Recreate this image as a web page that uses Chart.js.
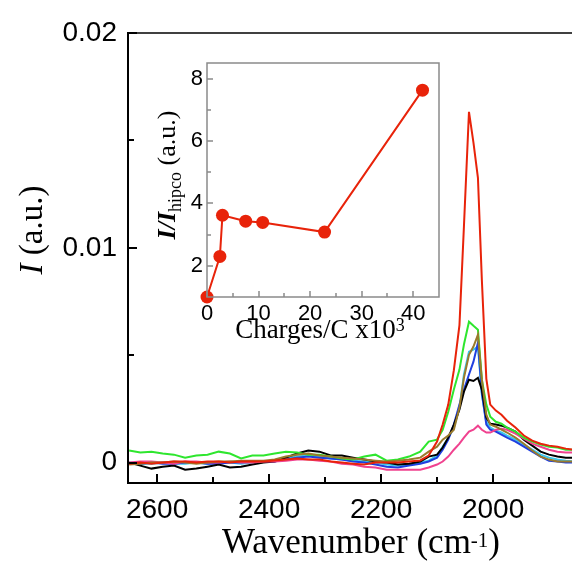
<!DOCTYPE html>
<html>
<head>
<meta charset="utf-8">
<script src="https://cdn.jsdelivr.net/npm/chart.js@4.4.1/dist/chart.umd.min.js"></script>
<style>
  html, body { margin: 0; padding: 0; background: #fff; }
  #wrap { position: relative; width: 572px; height: 565px; overflow: hidden; }
  #mainChart { position: absolute; left: 0; top: 0; }
  #insetChart { position: absolute; left: 140px; top: 45px; }
</style>
</head>
<body>
<div id="wrap">
  <canvas id="mainChart" width="572" height="565"></canvas>
  <canvas id="insetChart" width="310" height="310"></canvas>
</div>
<script>
// wavenumber grid (cm-1) shared by every spectrum
var wavenumbers = [2650, 2630, 2610, 2590, 2570, 2550, 2530, 2510, 2490, 2470, 2450, 2430, 2410, 2390,
  2370, 2350, 2330, 2310, 2290, 2270, 2250, 2230, 2210, 2190, 2170, 2150, 2130,
  2115, 2100, 2090, 2080, 2070, 2060, 2052, 2043, 2035, 2027, 2020, 2012, 2005, 1995, 1985, 1975,
  1960, 1945, 1930, 1915, 1900, 1885, 1870, 1855];

// intensities, in units of 1e-3 (a.u.)
var redSpec = [-0.05, 0, -0.05, 0, 0.05, 0.05, 0, 0.05, 0.05, 0, 0.05, 0.05, 0.05, 0.1, 0.14, 0.19, 0.14, 0.14, 0.05, 0, -0.05, -0.09, 0, 0, 0, 0.05, 0.1,
  0.33, 0.98, 1.77, 2.7, 4.3, 6.4, 11.0, 16.33, 14.9, 13.26, 8.5, 3.9, 2.7, 2.42, 2.23, 1.95, 1.63, 1.26, 1.02, 0.88, 0.79, 0.74, 0.65, 0.6];
var greenSpec = [0.56, 0.47, 0.51, 0.42, 0.37, 0.23, 0.33, 0.37, 0.51, 0.42, 0.19, 0.33, 0.33, 0.42, 0.51, 0.47, 0.37, 0.37, 0.28, 0.19, 0.14, 0.28, 0.37, 0.09, 0.14, 0.28, 0.51,
  0.98, 1.07, 1.53, 2.37, 3.4, 4.33, 5.5, 6.56, 6.37, 6.19, 3.86, 2.7, 2.14, 1.9, 1.81, 1.63, 1.44, 1.16, 0.98, 0.84, 0.74, 0.7, 0.6, 0.6];
var blackSpec = [0, -0.14, -0.28, -0.19, -0.14, -0.33, -0.28, -0.19, -0.09, -0.23, -0.19, -0.09, 0, 0.05, 0.23, 0.42, 0.56, 0.51, 0.33, 0.33, 0.23, 0.14, 0.05, 0, -0.09, -0.05, 0.05,
  0.28, 0.37, 0.7, 1.16, 1.77, 2.47, 3.3, 3.86, 3.8, 3.95, 3.4, 2.09, 1.81, 1.77, 1.72, 1.63, 1.44, 1.07, 0.79, 0.51, 0.37, 0.28, 0.23, 0.23];
var blueSpec = [-0.05, -0.05, 0, -0.05, -0.05, 0, 0, -0.05, -0.05, 0, 0, 0.05, 0.05, 0.05, 0.14, 0.23, 0.28, 0.23, 0.19, 0.14, 0.05, 0, -0.09, -0.19, -0.23, -0.14, -0.05,
  0.05, 0.23, 0.6, 1.07, 1.77, 2.7, 3.4, 4.1, 4.7, 5.58, 3.26, 1.77, 1.53, 1.44, 1.3, 1.16, 0.98, 0.74, 0.51, 0.28, 0.09, 0.05, 0, 0];
var cyanSpec = [0, -0.05, -0.05, 0, -0.05, -0.05, 0, -0.05, 0, 0, -0.05, 0, 0.05, 0.09, 0.19, 0.28, 0.33, 0.28, 0.19, 0.14, 0.09, 0.05, 0, -0.09, -0.14, -0.09, 0,
  0.09, 0.33, 0.74, 1.16, 1.63, 2.56, 4.1, 5.16, 5.26, 5.4, 3.16, 1.9, 1.63, 1.49, 1.4, 1.26, 1.07, 0.84, 0.6, 0.37, 0.23, 0.14, 0.09, 0.05];
var brownSpec = [-0.09, -0.05, 0, 0, 0.05, 0, -0.05, 0, 0.05, 0.05, 0.09, 0.09, 0.09, 0.14, 0.28, 0.37, 0.42, 0.33, 0.28, 0.23, 0.19, 0.14, 0.09, 0.05, 0.09, 0.14, 0.23,
  0.51, 0.74, 1.07, 1.26, 1.53, 2.56, 3.95, 5.02, 5.4, 5.95, 3.86, 2.23, 1.77, 1.67, 1.53, 1.4, 1.16, 0.88, 0.56, 0.28, 0.14, 0.05, 0.05, 0.05];
var pinkSpec = [0, 0.05, 0.05, 0, -0.05, 0.05, 0.05, 0, 0, 0.05, 0, 0, 0.05, 0.05, 0.09, 0.14, 0.14, 0.09, 0.05, -0.05, -0.09, -0.19, -0.23, -0.33, -0.33, -0.33, -0.33,
  -0.23, -0.09, 0.05, 0.28, 0.6, 0.88, 1.16, 1.44, 1.53, 1.72, 1.53, 1.4, 1.4, 1.53, 1.58, 1.53, 1.35, 1.12, 0.88, 0.74, 0.6, 0.51, 0.47, 0.47];

var xTicks = [2600, 2400, 2200, 2000];
var xTickLabels = ['2600', '2400', '2200', '2000'];
var xMinorTicks = [2500, 2300, 2100, 1900];
var yTicks = [0, 10, 20];
var yTickLabels = ['0', '0.01', '0.02'];
var yMinorTicks = [5, 15];

// inset: relative intensity vs charge
var charges = [0, 2.5, 3, 7.5, 10.8, 22.8, 41.8];
var ratio = [1.0, 2.3, 3.62, 3.43, 3.39, 3.08, 7.63];
var insetXTicks = [0, 10, 20, 30, 40];
var insetXMinor = [5, 15, 25, 35];
var insetYTicks = [2, 4, 6, 8];
var insetYMinor = [3, 5, 7];

// drawn top first (Chart.js paints dataset 0 last)
var spectra = [
  {data: redSpec, color: '#e8230a'},
  {data: brownSpec, color: '#9a7a2c'},
  {data: greenSpec, color: '#2ee62e'},
  {data: pinkSpec, color: '#f0428f'},
  {data: blackSpec, color: '#000000'},
  {data: blueSpec, color: '#1f3fe0'},
  {data: cyanSpec, color: '#38c8ee'}
];

// text made of several runs (italic, sub/superscript)
function richText(ctx, parts, cx, cy, rot) {
  ctx.save();
  ctx.translate(cx, cy);
  ctx.rotate(rot);
  ctx.textBaseline = 'alphabetic';
  ctx.textAlign = 'left';
  ctx.fillStyle = '#000';
  var total = 0;
  parts.forEach(function(p) { ctx.font = p.font; p.w = ctx.measureText(p.text).width; total += p.w; });
  var x = -total / 2;
  parts.forEach(function(p) { ctx.font = p.font; ctx.fillText(p.text, x, p.dy || 0); x += p.w; });
  ctx.restore();
}

function inwardTicks(chart, t) {
  var ctx = chart.ctx, a = chart.chartArea;
  var xs = chart.scales.x, ys = chart.scales.y;
  ctx.save();
  ctx.strokeStyle = t.color;
  ctx.lineWidth = t.width;
  ctx.beginPath();
  t.xMajor.forEach(function(v) { var p = Math.round(xs.getPixelForValue(v)); ctx.moveTo(p, a.bottom); ctx.lineTo(p, a.bottom - t.major); });
  t.xMinor.forEach(function(v) { var p = Math.round(xs.getPixelForValue(v)); ctx.moveTo(p, a.bottom); ctx.lineTo(p, a.bottom - t.minor); });
  t.yMajor.forEach(function(v) { var p = Math.round(ys.getPixelForValue(v)); ctx.moveTo(a.left, p); ctx.lineTo(a.left + t.major, p); });
  t.yMinor.forEach(function(v) { var p = Math.round(ys.getPixelForValue(v)); ctx.moveTo(a.left, p); ctx.lineTo(a.left + t.minor, p); });
  ctx.stroke();
  ctx.restore();
}

var mainDecor = {
  id: 'mainDecor',
  afterDraw: function(chart) {
    var ctx = chart.ctx, a = chart.chartArea;
    ctx.save();
    ctx.strokeStyle = '#000';
    ctx.lineWidth = 1.5;
    ctx.beginPath();
    ctx.moveTo(a.left, a.top);
    ctx.lineTo(a.right, a.top);
    ctx.stroke();
    ctx.restore();
    inwardTicks(chart, {color: '#000', width: 2, major: 9, minor: 6,
      xMajor: xTicks, xMinor: xMinorTicks, yMajor: yTicks, yMinor: yMinorTicks});
    richText(ctx, [
      {text: 'I', font: 'italic 33px "Liberation Serif"'},
      {text: ' (a.u.)', font: '33px "Liberation Serif"'}
    ], 42, 230, -Math.PI / 2);
    richText(ctx, [
      {text: 'Wavenumber (cm', font: '35px "Liberation Serif"'},
      {text: '-1', font: '21px "Liberation Serif"', dy: -6},
      {text: ')', font: '35px "Liberation Serif"'}
    ], 361, 553, 0);
  }
};

var insetDecor = {
  id: 'insetDecor',
  afterDraw: function(chart) {
    var ctx = chart.ctx, a = chart.chartArea;
    ctx.save();
    ctx.strokeStyle = '#8a8a8a';
    ctx.lineWidth = 1.5;
    ctx.strokeRect(a.left, a.top, a.right - a.left, a.bottom - a.top);
    ctx.restore();
    inwardTicks(chart, {color: '#8a8a8a', width: 1.5, major: 6, minor: 4,
      xMajor: insetXTicks, xMinor: insetXMinor, yMajor: insetYTicks, yMinor: insetYMinor});
    richText(ctx, [
      {text: 'I/I', font: 'bold italic 26px "Liberation Serif"'},
      {text: 'hipco', font: '18px "Liberation Serif"', dy: 6},
      {text: ' (a.u.)', font: '26px "Liberation Serif"'}
    ], 35, 130, -Math.PI / 2);
    richText(ctx, [
      {text: 'Charges/C x10', font: '27px "Liberation Serif"'},
      {text: '3', font: '18px "Liberation Serif"', dy: -7}
    ], 180, 293, 0);
  }
};

var mainData = {
  datasets: spectra.map(function(s) {
    return {
      data: wavenumbers.map(function(w, i) { return {x: w, y: s.data[i]}; }),
      borderColor: s.color,
      borderWidth: 2,
      pointRadius: 0,
      tension: 0,
      fill: false
    };
  })
};

new Chart(document.getElementById('mainChart'), {
  type: 'line',
  data: mainData,
  options: {
    responsive: false,
    animation: false,
    devicePixelRatio: 1,
    layout: {padding: {top: 33, right: 0, left: 0, bottom: 0}},
    plugins: {legend: {display: false}, tooltip: {enabled: false}},
    scales: {
      x: {
        type: 'linear',
        reverse: true,
        min: 1859,
        max: 2652,
        afterBuildTicks: function(s) { s.ticks = xTicks.map(function(v) { return {value: v}; }); },
        afterFit: function(s) { s.height = 82; },
        grid: {display: false, drawTicks: false},
        border: {display: true, color: '#000', width: 2},
        ticks: {
          color: '#000',
          padding: 10,
          maxRotation: 0,
          autoSkip: false,
          font: {family: 'Liberation Sans', size: 28},
          callback: function(v) { return xTickLabels[xTicks.indexOf(v)]; }
        }
      },
      y: {
        type: 'linear',
        min: -0.95,
        max: 20,
        afterBuildTicks: function(s) { s.ticks = yTicks.map(function(v) { return {value: v}; }); },
        afterFit: function(s) { s.width = 128; },
        grid: {display: false, drawTicks: false},
        border: {display: true, color: '#000', width: 2},
        ticks: {
          color: '#000',
          padding: 11,
          font: {family: 'Liberation Sans', size: 28},
          callback: function(v) { return yTickLabels[yTicks.indexOf(v)]; }
        }
      }
    }
  },
  plugins: [mainDecor]
});

new Chart(document.getElementById('insetChart'), {
  type: 'line',
  data: {
    datasets: [{
      data: charges.map(function(c, i) { return {x: c, y: ratio[i]}; }),
      borderColor: '#e8230a',
      backgroundColor: '#e8230a',
      borderWidth: 2,
      pointRadius: 6.5,
      pointBorderWidth: 0,
      tension: 0,
      clip: false
    }]
  },
  options: {
    responsive: false,
    animation: false,
    devicePixelRatio: 1,
    layout: {padding: {top: 18, right: 11, left: 0, bottom: 0}},
    plugins: {legend: {display: false}, tooltip: {enabled: false}},
    scales: {
      x: {
        type: 'linear',
        min: 0,
        max: 45,
        afterBuildTicks: function(s) { s.ticks = insetXTicks.map(function(v) { return {value: v}; }); },
        afterFit: function(s) { s.height = 58; },
        grid: {display: false, drawTicks: false},
        border: {display: false},
        ticks: {color: '#000', padding: 4, maxRotation: 0, autoSkip: false,
          font: {family: 'Liberation Sans', size: 22}}
      },
      y: {
        type: 'linear',
        min: 1,
        max: 8.5,
        afterBuildTicks: function(s) { s.ticks = insetYTicks.map(function(v) { return {value: v}; }); },
        afterFit: function(s) { s.width = 67; },
        grid: {display: false, drawTicks: false},
        border: {display: false},
        ticks: {color: '#000', padding: 4,
          font: {family: 'Liberation Sans', size: 22}}
      }
    }
  },
  plugins: [insetDecor]
});
</script>
</body>
</html>
